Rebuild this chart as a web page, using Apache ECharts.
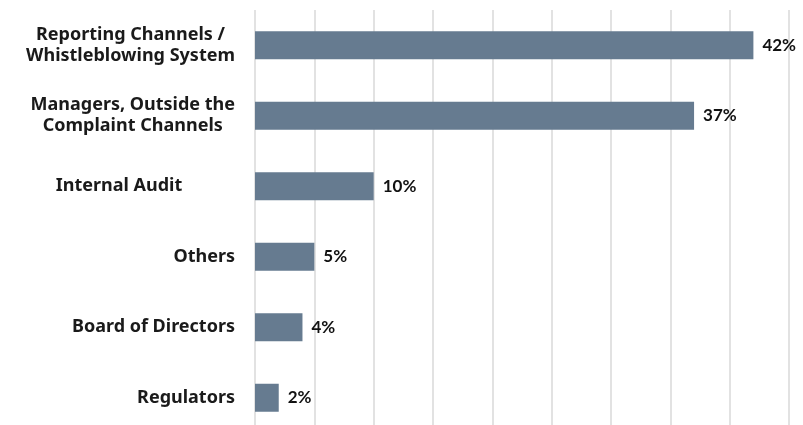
<!DOCTYPE html>
<html>
<head>
<meta charset="utf-8">
<script src="https://cdn.jsdelivr.net/npm/echarts@6/dist/echarts.min.js"></script>
<style>
  html, body { margin: 0; padding: 0; background: #ffffff; overflow: hidden; }
  #chart { width: 803px; height: 433px; }
</style>
</head>
<body>
<div id="chart"></div>
<script>
// Where misconduct was first reported (share of cases, %)
const categories = [
  'Reporting Channels /\nWhistleblowing System',
  'Managers, Outside the\nComplaint Channels',
  'Internal Audit',
  'Others',
  'Board of Directors',
  'Regulators'
];
const shares = [42, 37, 10, 5, 4, 2];

const chart = echarts.init(document.getElementById('chart'));

const labelFont = {
  align: 'center',
  fontFamily: 'Noto Sans',
  fontSize: 18,
  fontWeight: 700,
  color: '#1a1a1a',
  lineHeight: 21
};

chart.setOption({
  backgroundColor: '#ffffff',
  animation: false,
  // the plot runs a little past the bottom edge of the visible page
  grid: { left: 253, right: 14, top: 10, bottom: 0, containLabel: false },
  xAxis: {
    type: 'value',
    min: 0,
    max: 45,
    interval: 5,
    axisLabel: { show: false },
    axisLine: { show: false },
    axisTick: { show: false },
    splitLine: { show: true, lineStyle: { color: '#d9d9d9', width: 1.5 } }
  },
  yAxis: {
    type: 'category',
    data: categories,
    inverse: true,
    axisLine: { show: false },
    axisTick: { show: false },
    axisLabel: {
      margin: 20,
      formatter: function (v) {
        // wide centred block keeps this label away from the axis
        if (v === 'Internal Audit') return '{w|' + v + '}';
        return v.split('\n').map(function (s) { return '{c|' + s + '}'; }).join('\n');
      },
      rich: {
        c: labelFont,
        w: Object.assign({}, labelFont, { width: 232 })
      }
    }
  },
  series: [{
    type: 'bar',
    data: shares,
    barWidth: 28,
    itemStyle: { color: '#667b90' },
    label: {
      show: true,
      position: 'right',
      distance: 9,
      formatter: '{c}%',
      fontFamily: 'Lato',
      fontWeight: 'bold',
      fontSize: 17,
      color: '#111111'
    }
  }]
});
</script>
</body>
</html>
